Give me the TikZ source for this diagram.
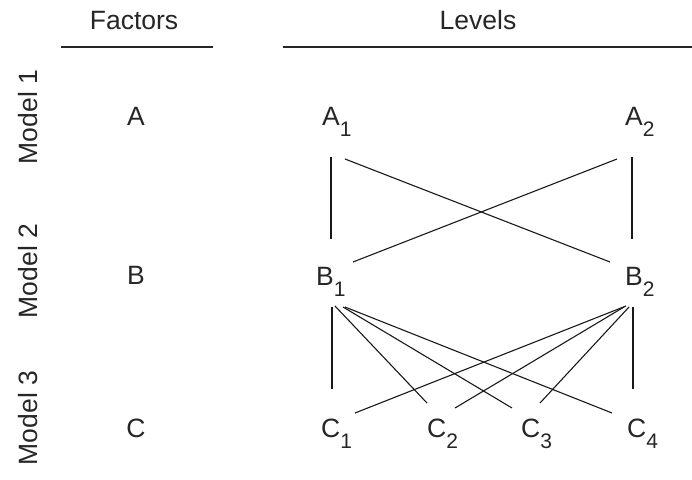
\documentclass[tikz,border=0pt]{standalone}
\usepackage{fontspec}
\setmainfont{Liberation Sans}
\newcommand\sbs[1]{\raisebox{-11pt}{\fontsize{21}{21}\selectfont #1}}
\begin{document}
\begin{tikzpicture}[x=1pt,y=-1pt,
  lbl/.style={inner sep=0pt,text=black!85,font=\fontsize{26.5}{30}\selectfont},
  lvl/.style={lbl,anchor=base west},
  mdl/.style={lbl,rotate=90,anchor=center},
  rule/.style={line width=1.7pt,black!85},
  link/.style={line width=1.1pt,black!90}]
\useasboundingbox (0,0) rectangle (692,479);
% headers
\node[lbl,anchor=base] (fac) at (134,29) {Factors};
\node[lbl,anchor=base] (lev) at (478,29) {Levels};
\coordinate (fl) at (61,47); \coordinate (fr) at (213,47);
\coordinate (ll) at (283,47); \coordinate (lr) at (692,47);
\draw[rule] (fl) -- (fr);
\draw[rule] (ll) -- (lr);
% model labels
\node[mdl] (m1) at (28,117) {Model 1};
\node[mdl] (m2) at (28,271) {Model 2};
\node[mdl] (m3) at (28,418) {Model 3};
% factors
\node[lbl,anchor=base] (fa) at (136,125) {A};
\node[lbl,anchor=base] (fb) at (136,284) {B};
\node[lbl,anchor=base] (fc) at (136,437) {C};
% levels
\node[lvl] (a1) at (322,125) {A\sbs{1}};
\node[lvl] (a2) at (625,125) {A\sbs{2}};
\node[lvl] (b1) at (316,285) {B\sbs{1}};
\node[lvl] (b2) at (625,285) {B\sbs{2}};
\node[lvl] (c1) at (321,437) {C\sbs{1}};
\node[lvl] (c2) at (427,437) {C\sbs{2}};
\node[lvl] (c3) at (521,437) {C\sbs{3}};
\node[lvl] (c4) at (627,437) {C\sbs{4}};
% attachment points
\coordinate (a1v) at (331,157); \coordinate (a1d) at (345,159);
\coordinate (a2v) at (632,157); \coordinate (a2d) at (617,159);
\coordinate (b1tv) at (331,239); \coordinate (b1td) at (353,262);
\coordinate (b2tv) at (632,239); \coordinate (b2td) at (610,262);
\coordinate (b1bv) at (332,307); \coordinate (b1b2) at (335,306);
\coordinate (b1b3) at (343,307); \coordinate (b1b4) at (345,307);
\coordinate (b2bv) at (633,307); \coordinate (b2b1) at (626,306);
\coordinate (b2b2) at (624,307); \coordinate (b2b3) at (629,307);
\coordinate (c1v) at (332,389); \coordinate (c1d) at (355,413);
\coordinate (c2l) at (427,403); \coordinate (c2r) at (455,408);
\coordinate (c3l) at (512,408); \coordinate (c3r) at (540,403);
\coordinate (c4d) at (612,413); \coordinate (c4v) at (633,389);
% connectors
\draw[link] (a1v) -- (b1tv);
\draw[link] (a2v) -- (b2tv);
\draw[link] (a1d) -- (b2td);
\draw[link] (a2d) -- (b1td);
\draw[link] (b1bv) -- (c1v);
\draw[link] (b2bv) -- (c4v);
\draw[link] (b1b2) -- (c2l);
\draw[link] (b1b3) -- (c3l);
\draw[link] (b1b4) -- (c4d);
\draw[link] (b2b1) -- (c1d);
\draw[link] (b2b2) -- (c2r);
\draw[link] (b2b3) -- (c3r);
\end{tikzpicture}
\end{document}
